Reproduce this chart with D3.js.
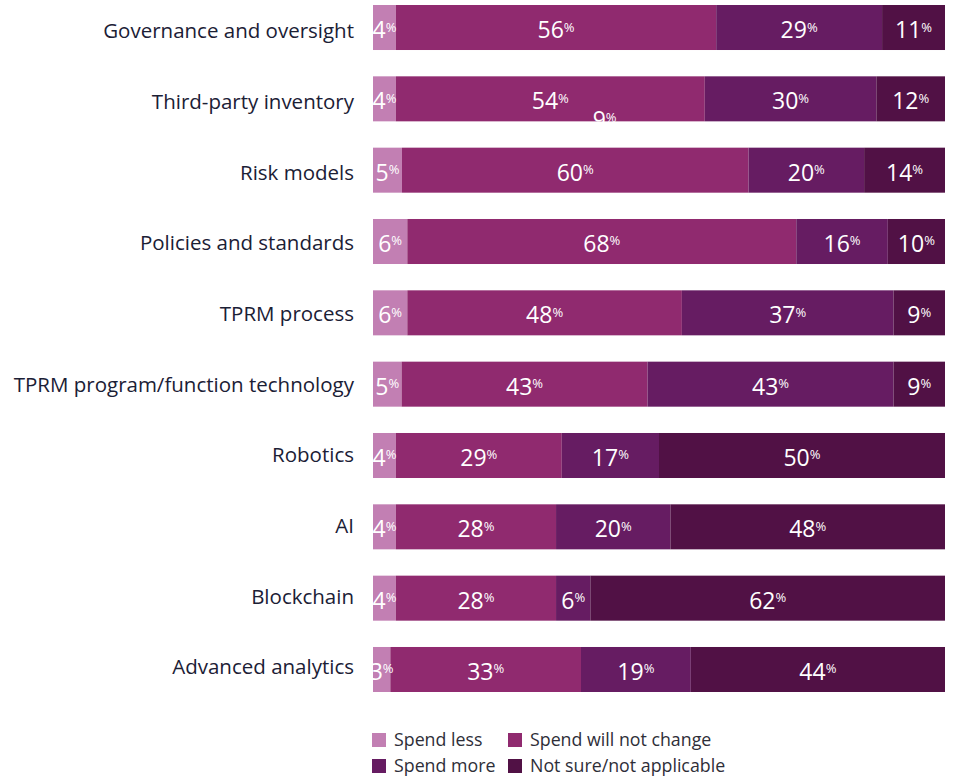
<!DOCTYPE html>
<html>
<head>
<meta charset="utf-8">
<script src="https://cdn.jsdelivr.net/npm/d3@7/dist/d3.min.js"></script>
<style>
  html, body { margin: 0; padding: 0; background: #fff; }
  svg { display: block; }
</style>
</head>
<body>
<svg id="chart" width="953" height="779"></svg>
<script>
// Expected change in TPRM spend by area
const categories = [
  "Governance and oversight",
  "Third-party inventory",
  "Risk models",
  "Policies and standards",
  "TPRM process",
  "TPRM program/function technology",
  "Robotics",
  "AI",
  "Blockchain",
  "Advanced analytics"
];
const seriesNames = ["Spend less", "Spend will not change", "Spend more", "Not sure/not applicable"];
const spendLess      = [4, 4, 5, 6, 6, 5, 4, 4, 4, 3];
const spendNoChange  = [56, 54, 60, 68, 48, 43, 29, 28, 28, 33];
const spendMore      = [29, 30, 20, 16, 37, 43, 17, 20, 6, 19];
const notSure        = [11, 12, 14, 10, 9, 9, 50, 48, 62, 44];
const colors = ["#c27fb3", "#902a6f", "#661c62", "#511145"];
// A stray "9%" label sitting at the lower edge of the Third-party inventory bar
const strayLabel = { category: "Third-party inventory", value: 9, at: 40.5 };

const svg = d3.select("#chart");
const font = "'Open Sans', sans-serif";

const rows = categories.map((c, i) => {
  const vals = [spendLess[i], spendNoChange[i], spendMore[i], notSure[i]];
  const total = d3.sum(vals);
  let acc = 0;
  const segs = vals.map((v, k) => {
    const s = { category: c, key: seriesNames[k], k, value: v, x0: acc, x1: acc + v, total };
    acc += v;
    return s;
  });
  return { category: c, total, segs };
});

const y = d3.scaleBand().domain(categories).range([5, 692]).paddingInner(0.369).paddingOuter(0);
// Row labels run on a slightly tighter pitch than the bars
const yLabel = d3.scalePoint().domain(categories).range([31, 667]);
const xFor = total => d3.scaleLinear().domain([0, total]).range([373, 945]);

// Category labels
svg.append("g").selectAll("text")
  .data(categories)
  .join("text")
  .attr("x", 354)
  .attr("y", d => yLabel(d))
  .attr("dy", "0.36em")
  .attr("text-anchor", "end")
  .attr("font-family", font)
  .attr("font-size", 20.5)
  .attr("fill", "#1b2035")
  .text(d => d);

const rowG = svg.append("g").selectAll("g")
  .data(rows)
  .join("g")
  .attr("transform", d => `translate(0,${y(d.category)})`);

// Bar segments
rowG.selectAll("rect")
  .data(d => d.segs)
  .join("rect")
  .attr("x", d => xFor(d.total)(d.x0))
  .attr("width", d => xFor(d.total)(d.x1) - xFor(d.total)(d.x0))
  .attr("y", 0)
  .attr("height", y.bandwidth())
  .attr("fill", d => colors[d.k]);

// Value labels with a small raised percent sign
function valueLabel(sel) {
  sel.attr("text-anchor", "middle")
    .attr("font-family", font)
    .attr("fill", "#fff");
  sel.append("tspan")
    .attr("font-size", 23)
    .text(d => d.value);
  sel.append("tspan")
    .attr("font-size", 13)
    .attr("dy", -6.5)
    .text("%");
}

rowG.selectAll("text.val")
  .data(d => d.segs)
  .join("text")
  .attr("class", "val")
  .attr("x", d => xFor(d.total)((d.x0 + d.x1) / 2))
  .attr("y", y.bandwidth() / 2 + 10.5)
  .call(valueLabel);

// Stray label partly showing below the Third-party inventory bar
svg.append("text")
  .datum(strayLabel)
  .attr("x", d => xFor(100)(d.at))
  .attr("y", d => y(d.category) + y.bandwidth() + 7)
  .call(valueLabel);

// Legend
const legend = svg.append("g").attr("transform", "translate(372,733)");
const legendItems = legend.selectAll("g")
  .data(seriesNames)
  .join("g")
  .attr("transform", (d, i) => `translate(${(i % 2) * 136},${Math.floor(i / 2) * 26})`);
legendItems.append("rect")
  .attr("width", 14).attr("height", 14)
  .attr("fill", (d, i) => colors[i]);
legendItems.append("text")
  .attr("x", 22).attr("y", 7).attr("dy", "0.36em")
  .attr("font-family", font)
  .attr("font-size", 17.8)
  .attr("fill", "#2e2e38")
  .text(d => d);
</script>
</body>
</html>
